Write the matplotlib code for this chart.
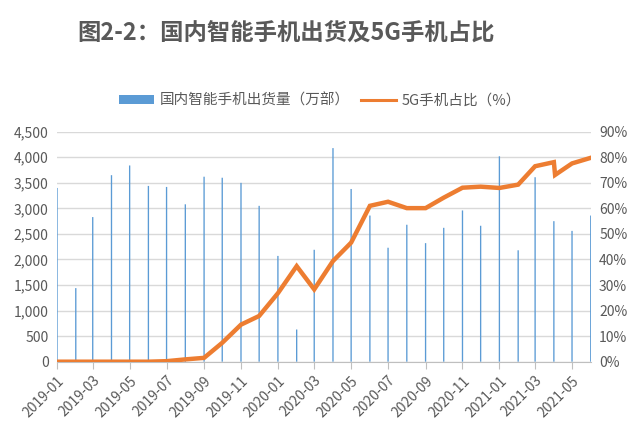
import matplotlib
matplotlib.use('Agg')
import matplotlib.pyplot as plt
import matplotlib.dates as mdates
import matplotlib.ticker as mticker
import pandas as pd

plt.rcParams['font.family'] = ['Noto Sans CJK SC', 'DejaVu Sans']

# 数据
months = pd.date_range('2019-01-01', '2021-06-01', freq='MS')
shipments = [3400, 1440, 2830, 3650, 3840, 3440, 3420, 3080, 3620, 3600,
             3500, 3050, 2070, 630, 2190, 4180, 3380, 2860, 2230, 2680,
             2320, 2620, 2960, 2660, 4020, 2180, 3610, 2750, 2560, 2860]

share_dates = pd.to_datetime(
    ['2019-01-01', '2019-02-01', '2019-03-01', '2019-04-01', '2019-05-01',
     '2019-06-01', '2019-07-01', '2019-08-01', '2019-09-01', '2019-10-01',
     '2019-11-01', '2019-12-01', '2020-01-01', '2020-02-01', '2020-03-01',
     '2020-04-01', '2020-05-01', '2020-06-01', '2020-07-01', '2020-08-01',
     '2020-09-01', '2020-10-01', '2020-11-01', '2020-12-01', '2021-01-01',
     '2021-02-01', '2021-03-01', '2021-04-01', '2021-04-03', '2021-05-01',
     '2021-06-01'])
share_5g = [0.0, 0.0, 0.0, 0.0, 0.0, 0.0, 0.2, 0.9, 1.5, 7.4,
            14.5, 17.9, 26.8, 37.4, 28.3, 39.4, 46.6, 61.0, 62.6, 60.1,
            60.1, 64.2, 68.1, 68.5, 68.0, 69.3, 76.5, 78.1, 73.1, 77.6,
            79.8]

gray = '#595959'
blue = '#5B9BD5'
orange = '#ED7D31'

fig = plt.figure(figsize=(6.4, 4.29), dpi=100)
ax = fig.add_axes([0.0891, 0.1569, 0.834, 0.536])
ax2 = ax.twinx()

bars = ax.bar(months, shipments, width=2.2, color=blue, linewidth=0,
              label='国内智能手机出货量（万部）', zorder=2)
for b in bars:
    b.set_snap(False)
ax2.plot(share_dates, share_5g, color=orange, lw=3.2, label='5G手机占比（%）',
         solid_joinstyle='miter', zorder=3)

ax.set_ylim(0, 4500)
ax2.set_ylim(0, 90)
ax.set_yticks(range(0, 4501, 500))
ax2.set_yticks(range(0, 91, 10))
ax.yaxis.set_major_formatter(mticker.StrMethodFormatter('{x:,.0f}'))
ax2.yaxis.set_major_formatter(mticker.FuncFormatter(lambda v, p: f'{v:.0f}%'))
ax.set_xlim(months[0], months[-1])

ax.grid(axis='y', color='#D9D9D9', lw=1, zorder=0)
ax.set_axisbelow(True)

ax.xaxis.set_major_locator(mdates.MonthLocator(bymonth=[1, 3, 5, 7, 9, 11]))
ax.xaxis.set_major_formatter(mdates.DateFormatter('%Y-%m'))
plt.setp(ax.get_xticklabels(), rotation=45, ha='right', rotation_mode='anchor')

for a in (ax, ax2):
    for s in a.spines.values():
        s.set_visible(False)
ax.spines['bottom'].set_visible(True)
ax.spines['bottom'].set_color('#BFBFBF')
ax.tick_params(axis='x', colors='#BFBFBF', length=5, labelcolor=gray, labelsize=10)
ax.tick_params(axis='y', length=0, labelcolor=gray, labelsize=10, pad=6)
ax2.tick_params(axis='y', length=0, labelcolor=gray, labelsize=10, pad=6)

fig.text(0.447, 0.923, '图2-2：国内智能手机出货及5G手机占比', ha='center', va='center',
         fontsize=16.8, fontweight='bold', color=gray)

h1, l1 = ax.get_legend_handles_labels()
h2, l2 = ax2.get_legend_handles_labels()
leg = fig.legend(h1 + h2, l1 + l2, loc='center', bbox_to_anchor=(0.5, 0.765), ncol=2,
                 frameon=False, fontsize=10.5, labelcolor=gray, handlelength=2.4,
                 handleheight=0.55, columnspacing=0.8, handletextpad=0.4)
for ln in leg.get_lines():
    ln.set_linewidth(2.2)

plt.savefig('out.png', dpi=100)
